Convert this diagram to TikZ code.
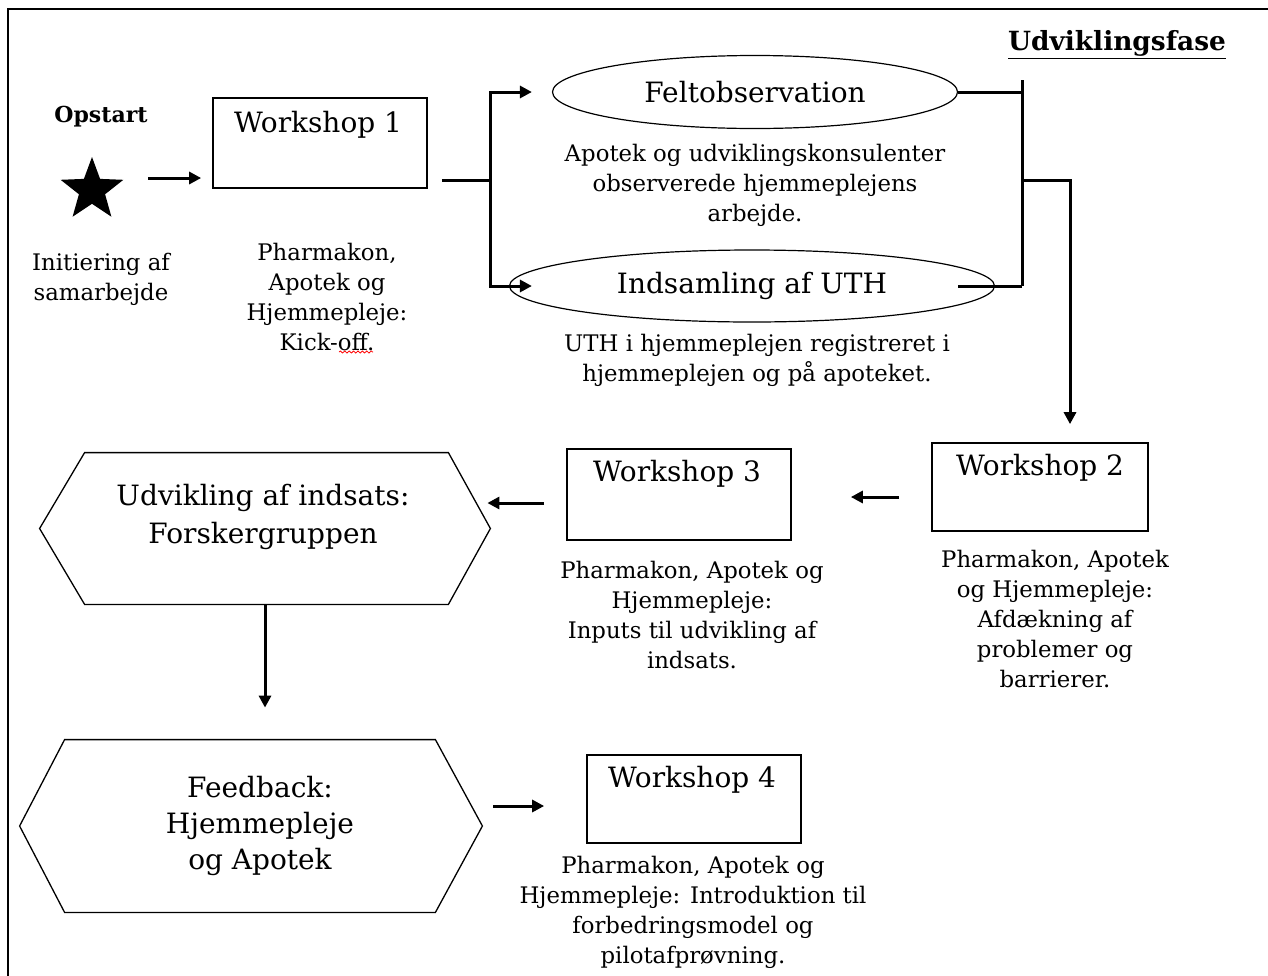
\documentclass[tikz,border=0pt]{standalone}
\usepackage{fontspec}
\setmainfont{DejaVu Serif}
\usetikzlibrary{shapes.geometric,arrows.meta,calc,decorations.pathmorphing}
\begin{document}
\begin{tikzpicture}[x=0.5pt,y=-0.5pt,
  arr/.style={line width=1.5pt,-{Triangle[length=6pt,width=6pt]}},
  conn/.style={line width=1.5pt},
  wbox/.style={draw,line width=0.85pt,inner sep=0pt},
  oval/.style={draw,ellipse,line width=0.6pt,inner sep=0pt,font=\fontsize{14}{18}\selectfont},
  hexa/.style={inner sep=0pt},
  hexline/.style={line width=0.65pt},
  title/.style={font=\fontsize{14}{18}\selectfont,align=center,inner sep=0pt},
  desc/.style={font=\fontsize{11.4}{15}\selectfont,align=center,inner sep=0pt},
]
\useasboundingbox (0,0) rectangle (1268,975);
\clip (0,0) rectangle (1268,975);
\draw[line width=1.3pt] (8,9) rectangle (1300,1000);

% start
\node[star, star points=5, star point ratio=2.4, fill=black, minimum size=33pt, inner sep=0pt] (star) at (92,190) {};
\node[font=\bfseries\fontsize{11}{13}\selectfont, inner sep=0pt] (opstart) at (101,117) {Opstart};
\node[desc] (init) at (101,279) {Initiering af\\samarbejde};

% workshop 1
\node[wbox, minimum width=107pt, minimum height=45pt] (w1) at (320,143) {};
\node[title] (w1t) at (318,125) {Workshop 1};
\node[desc] (w1d) at (327,297) {Pharmakon,\\Apotek og\\Hjemmepleje:\\Kick-off.};
\draw[red, line width=0.4pt, decorate, decoration={snake,amplitude=0.5pt,segment length=2.2pt}] (339,352) -- (373,352);

% ellipses
\node[oval, minimum width=202.5pt, minimum height=36.5pt] (felt) at (755,92) {Feltobservation};
\node[desc] (feltd) at (755,185) {Apotek og udviklingskonsulenter\\observerede hjemmeplejens\\arbejde.};
\node[oval, minimum width=242.5pt, minimum height=36pt] (inds) at (752,286) {Indsamling af UTH};
\node[desc] (indsd) at (757,360) {UTH i hjemmeplejen registreret i\\hjemmeplejen og på apoteket.};

% phase title
\node[font=\bfseries\fontsize{13.2}{15}\selectfont, inner sep=0pt] (fase) at (1117,45) {\underline{Udviklingsfase}};

% workshop 2
\node[wbox, minimum width=108pt, minimum height=44pt] (w2) at (1040,487) {};
\node[title] (w2t) at (1040,468) {Workshop 2};
\node[desc] (w2d) at (1055,619) {Pharmakon, Apotek\\og Hjemmepleje:\\Afdækning af\\problemer og\\barrierer.};

% workshop 3
\node[wbox, minimum width=112pt, minimum height=45.5pt] (w3) at (679,494.5) {};
\node[title] (w3t) at (677,474) {Workshop 3};
\node[desc] (w3d) at (692,615) {Pharmakon, Apotek og\\Hjemmepleje:\\Inputs til udvikling af\\indsats.};

% hexagon 1
\node[hexa, minimum width=225pt, minimum height=75.5pt] (hex1) at (265,528.5) {};
\draw[hexline] (hex1.west) -- ([xshift=22.5pt]hex1.north west) -- ([xshift=-21pt]hex1.north east) -- (hex1.east) -- ([xshift=-21pt]hex1.south east) -- ([xshift=22.5pt]hex1.south west) -- cycle;
\node[title, font=\fontsize{14}{19}\selectfont] (hex1t) at (263,517) {Udvikling af indsats:\\Forskergruppen};

% hexagon 2
\node[hexa, minimum width=231pt, minimum height=86pt] (hex2) at (251,826) {};
\draw[hexline] (hex2.west) -- ([xshift=22.5pt]hex2.north west) -- ([xshift=-23.5pt]hex2.north east) -- (hex2.east) -- ([xshift=-23.5pt]hex2.south east) -- ([xshift=22.5pt]hex2.south west) -- cycle;
\node[title] (hex2t) at (260,826) {Feedback:\\Hjemmepleje\\og Apotek};

% workshop 4
\node[wbox, minimum width=107pt, minimum height=44pt] (w4) at (694,799) {};
\node[title] (w4t) at (692,780) {Workshop 4};
\node[desc] (w4d) at (693,912) {Pharmakon, Apotek og\\Hjemmepleje: Introduktion til\\forbedringsmodel og\\pilotafprøvning.};

% connectors
\coordinate (split) at (490,180);
\coordinate (merge) at (1022,180);
\draw[arr, shorten <=28pt, shorten >=5.5pt] (star.center |- 0,178) -- (w1.west |- 0,178);
\draw[conn, shorten <=7pt] (w1.east |- split) -- (split);
\draw[arr, shorten >=10pt] (split) |- (felt.west);
\draw[arr, shorten >=-11.5pt] (split) |- (inds.west);
\draw[conn] (felt.east) -- (merge |- felt.east);
\draw[conn] ([xshift=-18.5pt]inds.east) -- (merge |- inds.east);
\draw[conn] (merge |- 0,80) -- (merge |- inds.east);
\draw[arr] (merge) -| ([xshift=15pt,yshift=9pt]w2.north);
\draw[arr, shorten <=16pt, shorten >=29.5pt] (w2.west |- 0,497) -- (w3.east |- 0,497);
\draw[arr, shorten <=11pt, shorten >=-1.5pt] (w3.west |- 0,503) -- (hex1.east |- 0,503);
\draw[arr, shorten >=16pt] (hex1.south) -- (hex1.south |- hex2.north);
\draw[arr, shorten <=5.5pt, shorten >=21pt] (hex2.east |- 0,806) -- (w4.west |- 0,806);
\end{tikzpicture}
\end{document}
